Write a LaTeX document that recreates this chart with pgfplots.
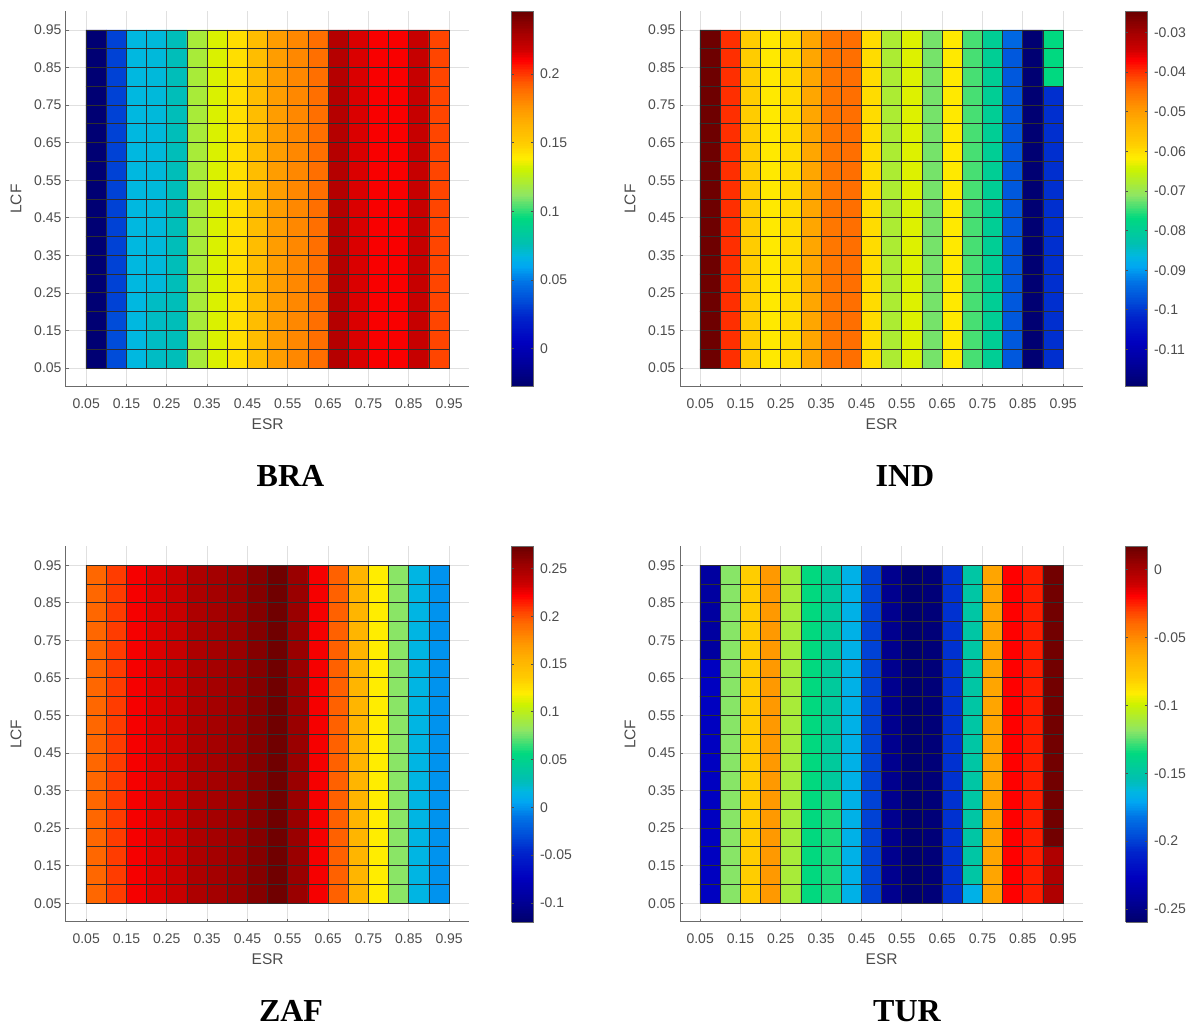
\documentclass[border=0pt]{standalone}
\usepackage{pgfplots}
\usepackage{fontspec}
\pgfplotsset{compat=1.18}
\setmainfont{Liberation Sans}
\newfontfamily\titlefont{Liberation Serif}
\definecolor{tk}{gray}{0.30}
\definecolor{ax}{gray}{0.42}
\pgfplotsset{
  colormap={rs}{rgb(0cm)=(0,0,.42); rgb(6cm)=(0,0,.6); rgb(12cm)=(0,0,.75); rgb(19cm)=(0,.15,.8); rgb(23cm)=(0,.3,.85); rgb(28cm)=(0,.45,.9); rgb(32cm)=(0,.65,.95); rgb(35cm)=(0,.72,.88); rgb(38cm)=(0,.75,.7); rgb(45cm)=(0,.85,.5); rgb(51cm)=(.55,.9,.4); rgb(58cm)=(.8,.95,0); rgb(61cm)=(1,.93,0); rgb(65cm)=(1,.8,0); rgb(70cm)=(1,.7,0); rgb(74cm)=(1,.6,0); rgb(80cm)=(1,.4,0); rgb(83cm)=(1,.25,0); rgb(87cm)=(1,0,0); rgb(90cm)=(.8,0,0); rgb(95cm)=(.62,0,0); rgb(100cm)=(.42,0,0)},
  pan/.style={
    scale only axis, width=403.3pt, height=375.5pt, anchor=south west,
    xmin=0, xmax=1, ymin=0, ymax=1, y dir=normal, axis on top=false,
    xtick={0.05,0.15,0.25,0.35,0.45,0.55,0.65,0.75,0.85,0.95},
    ytick={0.05,0.15,0.25,0.35,0.45,0.55,0.65,0.75,0.85,0.95},
    xticklabels={0.05,0.15,0.25,0.35,0.45,0.55,0.65,0.75,0.85,0.95},
    yticklabels={0.05,0.15,0.25,0.35,0.45,0.55,0.65,0.75,0.85,0.95},
    axis lines=left, axis line style={-, draw=ax, line width=1pt},
    tick align=inside, major tick length=3pt, tick style={draw=ax, line width=0.7pt},
    grid=major, grid style={draw=black!12, line width=0.8pt},
    tick label style={font=\fontsize{14}{16}\selectfont, text=tk},
    xticklabel style={yshift=-8pt}, yticklabel style={xshift=-1pt},
    xlabel=ESR, ylabel=LCF,
    xlabel style={at={(axis description cs:0.5,-0.0985)}, anchor=center, font=\fontsize{15.5}{17}\selectfont, text=tk},
    ylabel style={at={(axis description cs:-0.124,0.5)}, anchor=center, font=\fontsize{15.5}{17}\selectfont, text=tk},
    colorbar sampled,
    colorbar shift/.style={xshift=42pt},
  },
  cbs/.style={
    samples=220, width=22pt, axis line style={draw=ax, line width=0.8pt},
    tick align=inside, major tick length=2.5pt, tick style={draw=black!70, line width=0.7pt},
    tick label style={font=\fontsize{14}{16}\selectfont, text=tk, inner sep=2pt, xshift=4pt},
  },
  hm/.style={matrix plot*, y dir=normal, mesh/cols=18, point meta=explicit},
}
\newcommand{\cellgrid}{%
\addplot[black!82, line width=0.9pt, no marks] coordinates {
(0.05,0.05)(0.05,0.95)(0.10,0.95)(0.10,0.05)(0.15,0.05)(0.15,0.95)(0.20,0.95)(0.20,0.05)(0.25,0.05)(0.25,0.95)(0.30,0.95)(0.30,0.05)(0.35,0.05)(0.35,0.95)(0.40,0.95)(0.40,0.05)(0.45,0.05)(0.45,0.95)(0.50,0.95)(0.50,0.05)(0.55,0.05)(0.55,0.95)(0.60,0.95)(0.60,0.05)(0.65,0.05)(0.65,0.95)(0.70,0.95)(0.70,0.05)(0.75,0.05)(0.75,0.95)(0.80,0.95)(0.80,0.05)(0.85,0.05)(0.85,0.95)(0.90,0.95)(0.90,0.05)(0.95,0.05)(0.95,0.95)
(0.05,0.95)(0.05,0.90)(0.95,0.90)(0.95,0.85)(0.05,0.85)(0.05,0.80)(0.95,0.80)(0.95,0.75)(0.05,0.75)(0.05,0.70)(0.95,0.70)(0.95,0.65)(0.05,0.65)(0.05,0.60)(0.95,0.60)(0.95,0.55)(0.05,0.55)(0.05,0.50)(0.95,0.50)(0.95,0.45)(0.05,0.45)(0.05,0.40)(0.95,0.40)(0.95,0.35)(0.05,0.35)(0.05,0.30)(0.95,0.30)(0.95,0.25)(0.05,0.25)(0.05,0.20)(0.95,0.20)(0.95,0.15)(0.05,0.15)(0.05,0.10)(0.95,0.10)(0.95,0.05)(0.05,0.05)
};}
\begin{document}
\begin{tikzpicture}
\path (0,0) rectangle (1192pt,1027pt);

\begin{axis}[pan, at={(66pt,640.2pt)}, point meta min=-0.0278, point meta max=0.2456,
  colorbar style={cbs, ytick={0,0.05,0.1,0.15,0.2}, yticklabels={0,0.05,0.1,0.15,0.2}}]
\addplot[hm] table[header=false, row sep=crcr, x expr={0.075+0.05*mod(\coordindex,18)}, y expr={0.075+0.05*floor((\coordindex+0.5)/18)}, meta index=0] {
-0.025\\0.035\\0.068\\0.073\\0.075\\0.120\\0.133\\0.144\\0.158\\0.173\\0.180\\0.188\\0.225\\0.216\\0.211\\0.211\\0.220\\0.198\\
-0.025\\0.035\\0.068\\0.073\\0.075\\0.120\\0.133\\0.144\\0.158\\0.173\\0.180\\0.188\\0.225\\0.216\\0.211\\0.211\\0.220\\0.198\\
-0.025\\0.035\\0.068\\0.073\\0.075\\0.120\\0.133\\0.144\\0.158\\0.173\\0.180\\0.188\\0.225\\0.216\\0.211\\0.211\\0.220\\0.198\\
-0.025\\0.032\\0.068\\0.073\\0.075\\0.120\\0.133\\0.144\\0.158\\0.173\\0.180\\0.188\\0.225\\0.216\\0.211\\0.211\\0.220\\0.198\\
-0.025\\0.032\\0.068\\0.069\\0.075\\0.120\\0.133\\0.144\\0.158\\0.173\\0.180\\0.188\\0.225\\0.216\\0.211\\0.211\\0.220\\0.198\\
-0.025\\0.032\\0.068\\0.069\\0.075\\0.120\\0.133\\0.144\\0.158\\0.173\\0.180\\0.188\\0.225\\0.216\\0.211\\0.211\\0.220\\0.198\\
-0.025\\0.032\\0.068\\0.069\\0.075\\0.120\\0.133\\0.144\\0.158\\0.173\\0.180\\0.188\\0.225\\0.216\\0.211\\0.211\\0.220\\0.198\\
-0.025\\0.032\\0.068\\0.069\\0.075\\0.120\\0.133\\0.144\\0.158\\0.173\\0.180\\0.188\\0.225\\0.216\\0.211\\0.211\\0.220\\0.198\\
-0.025\\0.032\\0.068\\0.069\\0.075\\0.120\\0.133\\0.144\\0.158\\0.173\\0.180\\0.188\\0.225\\0.216\\0.211\\0.211\\0.220\\0.198\\
-0.025\\0.032\\0.068\\0.069\\0.075\\0.120\\0.133\\0.144\\0.158\\0.173\\0.180\\0.188\\0.225\\0.216\\0.211\\0.211\\0.220\\0.198\\
-0.025\\0.032\\0.068\\0.069\\0.075\\0.120\\0.133\\0.144\\0.158\\0.173\\0.180\\0.188\\0.225\\0.216\\0.211\\0.211\\0.220\\0.198\\
-0.025\\0.032\\0.068\\0.069\\0.075\\0.120\\0.133\\0.144\\0.158\\0.173\\0.180\\0.188\\0.225\\0.216\\0.211\\0.211\\0.220\\0.198\\
-0.025\\0.032\\0.068\\0.069\\0.075\\0.120\\0.133\\0.144\\0.158\\0.173\\0.180\\0.188\\0.225\\0.216\\0.211\\0.211\\0.220\\0.198\\
-0.025\\0.032\\0.068\\0.069\\0.075\\0.120\\0.133\\0.144\\0.158\\0.173\\0.180\\0.188\\0.225\\0.216\\0.211\\0.211\\0.220\\0.198\\
-0.025\\0.032\\0.068\\0.069\\0.075\\0.120\\0.133\\0.144\\0.158\\0.173\\0.180\\0.188\\0.225\\0.216\\0.211\\0.211\\0.220\\0.198\\
-0.025\\0.032\\0.068\\0.069\\0.075\\0.120\\0.133\\0.144\\0.158\\0.173\\0.180\\0.188\\0.225\\0.216\\0.211\\0.211\\0.220\\0.198\\
-0.025\\0.032\\0.068\\0.069\\0.075\\0.120\\0.133\\0.144\\0.158\\0.173\\0.180\\0.188\\0.225\\0.216\\0.211\\0.211\\0.220\\0.198\\
-0.025\\0.032\\0.068\\0.069\\0.075\\0.120\\0.133\\0.144\\0.158\\0.173\\0.180\\0.188\\0.225\\0.216\\0.211\\0.211\\0.220\\0.198\\
};
\cellgrid
\end{axis}

\begin{axis}[pan, at={(680pt,640.2pt)}, point meta min=-0.1194, point meta max=-0.0247,
  colorbar style={cbs, ytick={-0.11,-0.1,-0.09,-0.08,-0.07,-0.06,-0.05,-0.04,-0.03}, yticklabels={-0.11,-0.1,-0.09,-0.08,-0.07,-0.06,-0.05,-0.04,-0.03}}]
\addplot[hm] table[header=false, row sep=crcr, x expr={0.075+0.05*mod(\coordindex,18)}, y expr={0.075+0.05*floor((\coordindex+0.5)/18)}, meta index=0] {
-0.025\\-0.0398\\-0.0578\\-0.0612\\-0.0597\\-0.0512\\-0.0455\\-0.0446\\-0.0597\\-0.0678\\-0.0635\\-0.0720\\-0.0612\\-0.0739\\-0.0796\\-0.0962\\-0.1185\\-0.1005\\
-0.025\\-0.0398\\-0.0578\\-0.0612\\-0.0597\\-0.0512\\-0.0455\\-0.0446\\-0.0597\\-0.0678\\-0.0635\\-0.0720\\-0.0612\\-0.0739\\-0.0796\\-0.0962\\-0.1185\\-0.1005\\
-0.025\\-0.0398\\-0.0578\\-0.0612\\-0.0597\\-0.0512\\-0.0455\\-0.0446\\-0.0597\\-0.0678\\-0.0635\\-0.0720\\-0.0612\\-0.0739\\-0.0796\\-0.0962\\-0.1185\\-0.1005\\
-0.025\\-0.0398\\-0.0578\\-0.0612\\-0.0597\\-0.0512\\-0.0455\\-0.0446\\-0.0597\\-0.0678\\-0.0635\\-0.0720\\-0.0612\\-0.0739\\-0.0796\\-0.0962\\-0.1185\\-0.1005\\
-0.025\\-0.0398\\-0.0578\\-0.0612\\-0.0597\\-0.0512\\-0.0455\\-0.0446\\-0.0597\\-0.0678\\-0.0635\\-0.0720\\-0.0612\\-0.0739\\-0.0796\\-0.0962\\-0.1185\\-0.1005\\
-0.025\\-0.0398\\-0.0578\\-0.0612\\-0.0597\\-0.0512\\-0.0455\\-0.0446\\-0.0597\\-0.0678\\-0.0635\\-0.0720\\-0.0612\\-0.0739\\-0.0796\\-0.0962\\-0.1185\\-0.1005\\
-0.025\\-0.0398\\-0.0578\\-0.0612\\-0.0597\\-0.0512\\-0.0455\\-0.0446\\-0.0597\\-0.0678\\-0.0635\\-0.0720\\-0.0612\\-0.0739\\-0.0796\\-0.0962\\-0.1185\\-0.1005\\
-0.025\\-0.0398\\-0.0578\\-0.0612\\-0.0597\\-0.0512\\-0.0455\\-0.0446\\-0.0597\\-0.0678\\-0.0635\\-0.0720\\-0.0612\\-0.0739\\-0.0796\\-0.0962\\-0.1185\\-0.1005\\
-0.025\\-0.0398\\-0.0578\\-0.0612\\-0.0597\\-0.0512\\-0.0455\\-0.0446\\-0.0597\\-0.0678\\-0.0635\\-0.0720\\-0.0612\\-0.0739\\-0.0796\\-0.0962\\-0.1185\\-0.1005\\
-0.025\\-0.0398\\-0.0578\\-0.0612\\-0.0597\\-0.0512\\-0.0455\\-0.0446\\-0.0597\\-0.0678\\-0.0635\\-0.0720\\-0.0612\\-0.0739\\-0.0796\\-0.0962\\-0.1185\\-0.1005\\
-0.025\\-0.0398\\-0.0578\\-0.0612\\-0.0597\\-0.0512\\-0.0455\\-0.0446\\-0.0597\\-0.0678\\-0.0635\\-0.0720\\-0.0612\\-0.0739\\-0.0796\\-0.0962\\-0.1185\\-0.1005\\
-0.025\\-0.0398\\-0.0578\\-0.0612\\-0.0597\\-0.0512\\-0.0455\\-0.0446\\-0.0597\\-0.0678\\-0.0635\\-0.0720\\-0.0612\\-0.0739\\-0.0796\\-0.0962\\-0.1185\\-0.1005\\
-0.025\\-0.0398\\-0.0578\\-0.0612\\-0.0597\\-0.0512\\-0.0455\\-0.0446\\-0.0597\\-0.0678\\-0.0635\\-0.0720\\-0.0612\\-0.0739\\-0.0796\\-0.0962\\-0.1185\\-0.1005\\
-0.025\\-0.0398\\-0.0578\\-0.0612\\-0.0597\\-0.0512\\-0.0455\\-0.0446\\-0.0597\\-0.0678\\-0.0635\\-0.0720\\-0.0612\\-0.0739\\-0.0796\\-0.0962\\-0.1185\\-0.1005\\
-0.025\\-0.0398\\-0.0578\\-0.0612\\-0.0597\\-0.0512\\-0.0455\\-0.0446\\-0.0597\\-0.0678\\-0.0635\\-0.0720\\-0.0612\\-0.0739\\-0.0796\\-0.0962\\-0.1185\\-0.1005\\
-0.025\\-0.0398\\-0.0578\\-0.0612\\-0.0597\\-0.0512\\-0.0455\\-0.0446\\-0.0597\\-0.0678\\-0.0635\\-0.0720\\-0.0612\\-0.0739\\-0.0796\\-0.0962\\-0.1185\\-0.0768\\
-0.025\\-0.0398\\-0.0578\\-0.0612\\-0.0597\\-0.0512\\-0.0455\\-0.0446\\-0.0597\\-0.0678\\-0.0635\\-0.0720\\-0.0612\\-0.0739\\-0.0796\\-0.0962\\-0.1185\\-0.0768\\
-0.025\\-0.0398\\-0.0578\\-0.0612\\-0.0597\\-0.0512\\-0.0455\\-0.0446\\-0.0597\\-0.0678\\-0.0635\\-0.0720\\-0.0612\\-0.0739\\-0.0796\\-0.0943\\-0.1185\\-0.0768\\
};
\cellgrid
\end{axis}

\begin{axis}[pan, at={(66pt,105pt)}, point meta min=-0.12, point meta max=0.273,
  colorbar style={cbs, ytick={-0.1,-0.05,0,0.05,0.1,0.15,0.2,0.25}, yticklabels={-0.1,-0.05,0,0.05,0.1,0.15,0.2,0.25}}]
\addplot[hm] table[header=false, row sep=crcr, x expr={0.075+0.05*mod(\coordindex,18)}, y expr={0.075+0.05*floor((\coordindex+0.5)/18)}, meta index=0] {
0.194\\0.207\\0.224\\0.230\\0.236\\0.247\\0.251\\0.255\\0.263\\0.271\\0.255\\0.224\\0.196\\0.153\\0.120\\0.080\\0.016\\0.000\\
0.194\\0.207\\0.224\\0.230\\0.236\\0.247\\0.251\\0.255\\0.263\\0.271\\0.255\\0.224\\0.196\\0.153\\0.120\\0.080\\0.016\\0.000\\
0.194\\0.207\\0.224\\0.230\\0.236\\0.247\\0.251\\0.255\\0.263\\0.271\\0.255\\0.224\\0.196\\0.153\\0.120\\0.080\\0.016\\0.000\\
0.194\\0.207\\0.224\\0.230\\0.236\\0.247\\0.251\\0.255\\0.263\\0.271\\0.255\\0.224\\0.196\\0.153\\0.120\\0.080\\0.016\\0.000\\
0.194\\0.207\\0.224\\0.230\\0.236\\0.247\\0.251\\0.255\\0.263\\0.271\\0.255\\0.224\\0.196\\0.153\\0.120\\0.080\\0.016\\0.000\\
0.194\\0.207\\0.224\\0.230\\0.236\\0.247\\0.251\\0.255\\0.263\\0.271\\0.255\\0.224\\0.196\\0.153\\0.120\\0.080\\0.016\\0.000\\
0.194\\0.207\\0.224\\0.230\\0.236\\0.247\\0.251\\0.255\\0.263\\0.271\\0.255\\0.224\\0.196\\0.153\\0.120\\0.080\\0.016\\0.000\\
0.194\\0.207\\0.224\\0.230\\0.236\\0.247\\0.251\\0.255\\0.263\\0.271\\0.255\\0.224\\0.196\\0.153\\0.120\\0.080\\0.016\\0.000\\
0.194\\0.207\\0.224\\0.230\\0.236\\0.247\\0.251\\0.255\\0.263\\0.271\\0.255\\0.224\\0.196\\0.153\\0.120\\0.080\\0.016\\0.000\\
0.194\\0.207\\0.224\\0.230\\0.236\\0.247\\0.251\\0.255\\0.263\\0.271\\0.255\\0.224\\0.196\\0.153\\0.120\\0.080\\0.016\\0.000\\
0.194\\0.207\\0.224\\0.230\\0.236\\0.247\\0.251\\0.255\\0.263\\0.271\\0.255\\0.224\\0.196\\0.153\\0.120\\0.080\\0.016\\0.000\\
0.194\\0.207\\0.224\\0.230\\0.236\\0.247\\0.251\\0.255\\0.263\\0.271\\0.255\\0.224\\0.196\\0.153\\0.120\\0.080\\0.016\\0.000\\
0.194\\0.207\\0.224\\0.230\\0.236\\0.247\\0.251\\0.255\\0.263\\0.271\\0.255\\0.224\\0.196\\0.153\\0.120\\0.080\\0.016\\0.000\\
0.194\\0.207\\0.224\\0.230\\0.236\\0.247\\0.251\\0.255\\0.263\\0.271\\0.255\\0.224\\0.196\\0.153\\0.120\\0.080\\0.016\\0.000\\
0.194\\0.207\\0.224\\0.230\\0.236\\0.247\\0.251\\0.255\\0.263\\0.271\\0.255\\0.224\\0.196\\0.153\\0.120\\0.080\\0.016\\0.000\\
0.194\\0.207\\0.224\\0.230\\0.236\\0.247\\0.251\\0.255\\0.263\\0.271\\0.255\\0.224\\0.196\\0.153\\0.120\\0.080\\0.016\\0.000\\
0.194\\0.207\\0.224\\0.230\\0.236\\0.247\\0.251\\0.255\\0.263\\0.271\\0.255\\0.224\\0.196\\0.153\\0.120\\0.080\\0.016\\0.000\\
0.194\\0.207\\0.224\\0.230\\0.236\\0.247\\0.251\\0.255\\0.263\\0.271\\0.255\\0.224\\0.196\\0.153\\0.120\\0.080\\0.016\\0.000\\
};
\cellgrid
\end{axis}

\begin{axis}[pan, at={(680pt,105pt)}, point meta min=-0.2596, point meta max=0.017,
  colorbar style={cbs, ytick={-0.25,-0.2,-0.15,-0.1,-0.05,0}, yticklabels={-0.25,-0.2,-0.15,-0.1,-0.05,0}}]
\addplot[hm] table[header=false, row sep=crcr, x expr={0.075+0.05*mod(\coordindex,18)}, y expr={0.075+0.05*floor((\coordindex+0.5)/18)}, meta index=0] {
-0.226\\-0.119\\-0.080\\-0.055\\-0.110\\-0.135\\-0.132\\-0.166\\-0.199\\-0.247\\-0.258\\-0.255\\-0.204\\-0.166\\-0.060\\-0.019\\-0.024\\-0.002\\
-0.226\\-0.119\\-0.080\\-0.055\\-0.110\\-0.135\\-0.132\\-0.166\\-0.199\\-0.247\\-0.258\\-0.255\\-0.204\\-0.149\\-0.060\\-0.019\\-0.024\\-0.002\\
-0.226\\-0.119\\-0.080\\-0.055\\-0.110\\-0.135\\-0.132\\-0.166\\-0.199\\-0.247\\-0.258\\-0.255\\-0.204\\-0.149\\-0.060\\-0.019\\-0.024\\-0.002\\
-0.226\\-0.119\\-0.080\\-0.055\\-0.110\\-0.135\\-0.132\\-0.166\\-0.199\\-0.247\\-0.258\\-0.255\\-0.204\\-0.149\\-0.060\\-0.019\\-0.024\\0.015\\
-0.226\\-0.119\\-0.080\\-0.055\\-0.110\\-0.135\\-0.132\\-0.166\\-0.199\\-0.247\\-0.258\\-0.255\\-0.204\\-0.149\\-0.060\\-0.019\\-0.024\\0.015\\
-0.226\\-0.119\\-0.080\\-0.055\\-0.110\\-0.135\\-0.132\\-0.166\\-0.199\\-0.247\\-0.258\\-0.255\\-0.204\\-0.149\\-0.060\\-0.019\\-0.024\\0.015\\
-0.226\\-0.119\\-0.080\\-0.055\\-0.110\\-0.135\\-0.146\\-0.166\\-0.199\\-0.247\\-0.258\\-0.255\\-0.204\\-0.149\\-0.060\\-0.019\\-0.024\\0.015\\
-0.226\\-0.119\\-0.080\\-0.055\\-0.110\\-0.135\\-0.146\\-0.166\\-0.199\\-0.247\\-0.258\\-0.255\\-0.204\\-0.149\\-0.060\\-0.019\\-0.024\\0.015\\
-0.226\\-0.119\\-0.080\\-0.055\\-0.110\\-0.135\\-0.146\\-0.166\\-0.199\\-0.247\\-0.258\\-0.255\\-0.204\\-0.149\\-0.060\\-0.019\\-0.024\\0.015\\
-0.226\\-0.119\\-0.080\\-0.055\\-0.110\\-0.135\\-0.146\\-0.166\\-0.199\\-0.247\\-0.258\\-0.255\\-0.204\\-0.149\\-0.060\\-0.019\\-0.024\\0.015\\
-0.226\\-0.119\\-0.080\\-0.055\\-0.110\\-0.135\\-0.146\\-0.166\\-0.199\\-0.247\\-0.258\\-0.255\\-0.204\\-0.149\\-0.060\\-0.019\\-0.024\\0.015\\
-0.226\\-0.119\\-0.080\\-0.055\\-0.110\\-0.135\\-0.146\\-0.166\\-0.199\\-0.247\\-0.258\\-0.255\\-0.204\\-0.149\\-0.060\\-0.019\\-0.024\\0.015\\
-0.226\\-0.119\\-0.080\\-0.055\\-0.110\\-0.135\\-0.146\\-0.166\\-0.199\\-0.247\\-0.258\\-0.255\\-0.204\\-0.149\\-0.060\\-0.019\\-0.024\\0.015\\
-0.240\\-0.119\\-0.080\\-0.055\\-0.110\\-0.135\\-0.146\\-0.166\\-0.199\\-0.247\\-0.258\\-0.255\\-0.204\\-0.149\\-0.060\\-0.019\\-0.024\\0.015\\
-0.240\\-0.119\\-0.080\\-0.055\\-0.110\\-0.135\\-0.146\\-0.166\\-0.199\\-0.247\\-0.258\\-0.255\\-0.204\\-0.149\\-0.060\\-0.019\\-0.024\\0.015\\
-0.240\\-0.119\\-0.080\\-0.055\\-0.110\\-0.135\\-0.146\\-0.166\\-0.199\\-0.247\\-0.258\\-0.255\\-0.204\\-0.149\\-0.060\\-0.019\\-0.024\\0.015\\
-0.240\\-0.119\\-0.080\\-0.055\\-0.110\\-0.135\\-0.146\\-0.166\\-0.199\\-0.247\\-0.258\\-0.255\\-0.204\\-0.149\\-0.060\\-0.019\\-0.024\\0.015\\
-0.240\\-0.119\\-0.080\\-0.055\\-0.110\\-0.135\\-0.146\\-0.166\\-0.199\\-0.247\\-0.258\\-0.255\\-0.204\\-0.149\\-0.060\\-0.019\\-0.024\\0.015\\
};
\cellgrid
\end{axis}

\node[font=\titlefont\bfseries\fontsize{32}{34}\selectfont] at (290.5pt,551pt) {BRA};
\node[font=\titlefont\bfseries\fontsize{32}{34}\selectfont] at (905pt,551pt) {IND};
\node[font=\titlefont\bfseries\fontsize{32}{34}\selectfont] at (291pt,16pt) {ZAF};
\node[font=\titlefont\bfseries\fontsize{32}{34}\selectfont] at (907pt,16pt) {TUR};
\end{tikzpicture}
\end{document}
